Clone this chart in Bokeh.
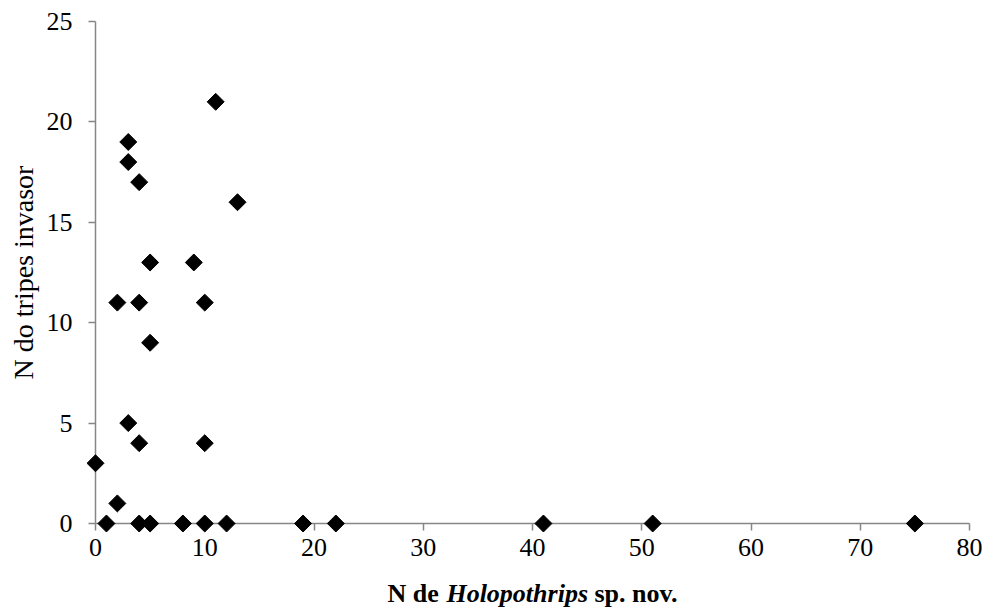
import math
from bokeh.plotting import figure
from bokeh.models import Range1d, FixedTicker, Label, LabelSet, ColumnDataSource, LinearAxis
from bokeh.embed import file_html
from bokeh.resources import INLINE

# data
holopothrips = [0, 1, 2, 2, 3, 3, 3, 4, 4, 4, 4, 5, 5, 5, 8, 9, 10, 10, 10, 11, 12, 13, 19, 22, 41, 51, 75]
invasor = [3, 0, 11, 1, 19, 18, 5, 17, 11, 4, 0, 13, 9, 0, 0, 13, 11, 4, 0, 21, 0, 16, 0, 0, 0, 0, 0]
x_ticks = [0, 10, 20, 30, 40, 50, 60, 70, 80]
y_ticks = [0, 5, 10, 15, 20, 25]
x_title_parts = [("N de", "bold"), ("Holopothrips", "bold italic"), ("sp. nov.", "bold")]
y_title = "N do tripes invasor"

FONT = "Liberation Serif"
AXIS_COLOR = "#868686"

W, H = 995, 612
BORDER_TR = 10                       # room for the axis panels (top / right)
ORIGIN_X, ORIGIN_Y = 95, 523         # pixel position of data (0, 0)
PX_X = 874 / 80                      # pixels per x unit
PX_Y = 502 / 25                      # pixels per y unit

XR = (-ORIGIN_X / PX_X, (W - BORDER_TR - ORIGIN_X) / PX_X)
YR = (-(H - ORIGIN_Y) / PX_Y, (ORIGIN_Y - BORDER_TR) / PX_Y)

p = figure(width=W, height=H, output_backend="svg", toolbar_location=None,
           x_range=Range1d(*XR), y_range=Range1d(*YR),
           x_axis_location=None, y_axis_location=None,
           min_border_left=0, min_border_bottom=0,
           min_border_top=BORDER_TR, min_border_right=BORDER_TR)
p.outline_line_color = None
p.xgrid.visible = False
p.ygrid.visible = False
p.background_fill_color = "white"
p.border_fill_color = "white"

xaxis = LinearAxis()
yaxis = LinearAxis()
p.add_layout(xaxis, "above")
p.add_layout(yaxis, "right")
for ax, ticks in ((xaxis, x_ticks), (yaxis, y_ticks)):
    ax.ticker = FixedTicker(ticks=ticks)
    ax.bounds = (ticks[0], ticks[-1])
    ax.fixed_location = 0
    ax.axis_line_color = AXIS_COLOR
    ax.axis_line_width = 1.5
    ax.major_tick_line_color = AXIS_COLOR
    ax.major_tick_line_width = 1.5
    ax.major_tick_out = 0
    ax.major_tick_in = 7
    ax.minor_tick_line_color = None
    ax.major_label_text_color = None
    ax.major_label_text_font_size = "1px"
    ax.major_label_standoff = 0

r = p.scatter(holopothrips, invasor, marker="square", angle=math.pi / 4, size=12,
              fill_color="black", line_color="black")
r.level = "overlay"

# tick labels
xsrc = ColumnDataSource(dict(x=x_ticks, y=[-15 / PX_Y] * len(x_ticks), t=[str(v) for v in x_ticks]))
p.add_layout(LabelSet(x="x", y="y", text="t", source=xsrc, text_font=FONT, text_font_size="26px",
                      text_color="black", text_align="center", text_baseline="top"))
ysrc = ColumnDataSource(dict(x=[-23 / PX_X] * len(y_ticks), y=y_ticks, t=[str(v) for v in y_ticks]))
p.add_layout(LabelSet(x="x", y="y", text="t", source=ysrc, text_font=FONT, text_font_size="26px",
                      text_color="black", text_align="right", text_baseline="middle"))

# x axis title (mixed bold / bold italic)
x_starts = [26.72, 32.12, 45.67]
for (txt, style), xs in zip(x_title_parts, x_starts):
    p.add_layout(Label(x=xs, y=-70 / PX_Y, text=txt, text_font=FONT, text_font_style=style,
                       text_font_size="26px", text_color="black", text_align="left",
                       text_baseline="middle"))

# y axis title
p.add_layout(Label(x=-72 / PX_X, y=12.5, text=y_title, angle=math.pi / 2, text_font=FONT,
                   text_font_size="28px", text_color="black", text_align="center",
                   text_baseline="middle"))

open("out.html", "w").write(file_html(p, INLINE))
